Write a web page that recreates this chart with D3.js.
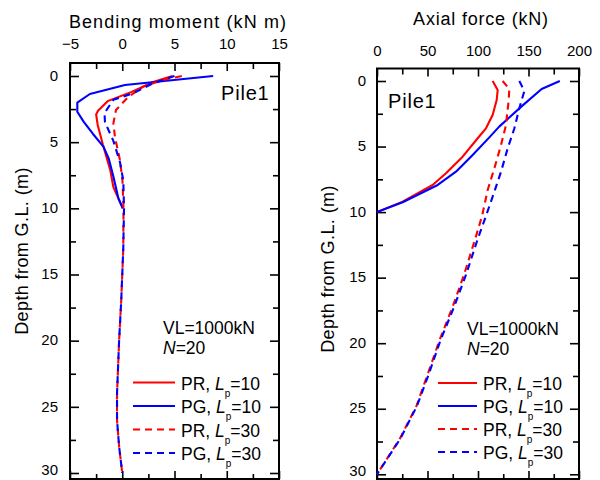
<!DOCTYPE html>
<html><head><meta charset="utf-8">
<script src="https://cdn.jsdelivr.net/npm/d3@7"></script>
<style>
body{margin:0;background:#fff}
svg{display:block}
text{font-family:"Liberation Sans",Arial,sans-serif;fill:#000}
</style>
</head><body>
<svg id="chart" width="600" height="480"></svg>
<script>
// ---------------- DATA ----------------
const seriesNames = ["PR", "PG", "PR", "PG"];
const seriesLp = ["10", "10", "30", "30"];

// Bending moment (kN m) vs depth (m)
const bmDepthPR10 = [0, 0.5, 1.2, 1.9, 2.6, 2.9, 3.7, 5.2, 7.1, 8.4, 10];
const bmPR10      = [4.8, 2.8, 0.9, -1.4, -2.3, -2.5, -2.35, -1.85, -1.15, -0.85, 0.05];
const bmDepthPG10 = [0, 0.68, 1.36, 2.02, 2.7, 3.45, 4.38, 5.34, 6.22, 7.6, 9.24, 10];
const bmPG10      = [8.7, 0.26, -3.1, -4.3, -4.3, -3.7, -2.8, -1.8, -1.3, -0.85, -0.37, 0.05];
const bmDepthPR30 = [0, 0.3, 0.81, 1.56, 2.57, 3.58, 4.6, 6.35, 7.9, 10, 13, 17, 20, 24, 26, 28, 30];
const bmPR30      = [5.7, 3.9, 2.0, 0.6, -0.6, -0.85, -0.7, -0.22, 0.02, 0.12, 0.1, -0.1, -0.3, -0.5, -0.5, -0.3, 0.0];
const bmDepthPG30 = [0, 0.6, 1.3, 1.8, 2.8, 3.5, 4.9, 6.5, 7.9, 10, 13, 17, 20, 24, 26, 28, 30];
const bmPG30      = [5.0, 2.8, 1.06, -0.85, -1.7, -1.65, -0.85, -0.22, 0.1, 0.17, 0.1, -0.1, -0.3, -0.5, -0.5, -0.3, 0.0];

// Axial force (kN) vs depth (m)
const afDepthPR10 = [0, 0.69, 1.45, 2.59, 3.61, 4.37, 5.77, 7.04, 7.93, 9.2, 10];
const afPR10      = [114.5, 119.5, 118.5, 114.5, 107.9, 99.7, 84.8, 68.3, 55.1, 25.4, 0];
const afDepthPG10 = [0, 0.61, 1.88, 3.48, 4.32, 5.64, 6.92, 7.93, 9.25, 10];
const afPG10      = [181, 163, 144, 121, 111, 94.7, 78.2, 60.1, 25.4, 0];
const afDepthPR30 = [0, 0.61, 1.45, 3.35, 4.88, 6.66, 8.31, 10.3, 12.1, 14.7, 17.2, 19.75, 22.3, 24.8, 27.3, 30];
const afPR30      = [124.4, 131, 130.4, 127.7, 122.8, 116.2, 109.6, 104, 97, 86.5, 75, 62, 50.5, 39, 22.5, 0];
const afDepthPG30 = [0, 0.76, 2.08, 3.61, 5.14, 6.92, 8.44, 10.3, 12.1, 14.7, 17.2, 19.75, 22.3, 24.8, 27.3, 30];
const afPG30      = [140.9, 145.9, 140.9, 136, 129.4, 122.8, 116.2, 107.9, 99.5, 88.5, 76.5, 63, 51.5, 39.5, 23, 0];

const bmTicks = [-5, 0, 5, 10, 15];
const afTicks = [0, 50, 100, 150, 200];
const depthTicks = [0, 5, 10, 15, 20, 25, 30];

// ---------------- STYLE / LAYOUT ----------------
const colors = ["#ff0000", "#0000ff", "#ff0000", "#0000ff"];
const dashes = [null, null, "7,5", "7,5"];

const svg = d3.select("#chart");

function panel(cfg) {
  const x = d3.scaleLinear().domain(cfg.xDomain).range([cfg.left, cfg.right]);
  const y = d3.scaleLinear().domain([0, 30]).range([cfg.y0, cfg.y30]);
  const g = svg.append("g");
  const H = cfg.bottom - cfg.top, W = cfg.right - cfg.left;

  const xMinor = d3.range(cfg.xDomain[0], cfg.xDomain[1] + 1e-9, cfg.xMinorStep).filter(v => !cfg.xTicks.some(t => Math.abs(t - v) < 1e-9));
  const yMinor = d3.range(2.5, 30, 5);

  // top axis with labels
  const top = g.append("g").attr("transform", `translate(0,${cfg.top})`)
    .call(d3.axisTop(x).tickValues(cfg.xTicks).tickSize(-8).tickPadding(cfg.xLabelPad).tickFormat(d3.format("")));
  top.append("g").call(d3.axisTop(x).tickValues(xMinor).tickSize(-6).tickFormat(""));
  // bottom axis
  const bot = g.append("g").attr("transform", `translate(0,${cfg.bottom})`)
    .call(d3.axisBottom(x).tickValues(cfg.xTicks).tickSize(-8).tickFormat(""));
  bot.append("g").call(d3.axisBottom(x).tickValues(xMinor).tickSize(-5).tickFormat(""));
  // left axis with labels
  const lft = g.append("g").attr("transform", `translate(${cfg.left},0)`)
    .call(d3.axisLeft(y).tickValues(depthTicks).tickSize(-9).tickPadding(cfg.yLabelPad).tickFormat(d3.format("")));
  lft.append("g").call(d3.axisLeft(y).tickValues(yMinor).tickSize(-6).tickFormat(""));
  // right axis
  const rgt = g.append("g").attr("transform", `translate(${cfg.right},0)`)
    .call(d3.axisRight(y).tickValues(depthTicks).tickSize(-9).tickFormat(""));
  rgt.append("g").call(d3.axisRight(y).tickValues(yMinor).tickSize(-6).tickFormat(""));

  g.selectAll(".domain").remove();
  g.selectAll(".tick line").attr("stroke", "#000").attr("stroke-width", 1.6);
  g.selectAll(".tick text").attr("font-size", 15).attr("fill", "#000")
    .style("font-family", '"Liberation Sans",Arial,sans-serif');
  lft.selectAll(".tick text").attr("dy", d => d === 30 ? "0.1em" : "0.28em");

  g.append("rect").attr("x", cfg.left).attr("y", cfg.top).attr("width", W).attr("height", H)
    .attr("fill", "none").attr("stroke", "#000").attr("stroke-width", 2);

  // curves
  const line = d3.line().x(d => x(d[1])).y(d => y(d[0]));
  cfg.series.forEach((s, i) => {
    const pts = s.depth.map((dd, k) => [dd, s.value[k]]);
    g.append("path").datum(pts).attr("d", line)
      .attr("fill", "none").attr("stroke", colors[i]).attr("stroke-width", 2.1)
      .attr("stroke-dasharray", dashes[i]).attr("stroke-linejoin", "round");
  });

  // titles
  g.append("text").attr("x", cfg.titleX).attr("y", cfg.titleY).attr("text-anchor", "middle")
    .attr("font-size", 18).attr("letter-spacing", cfg.titleLS).text(cfg.title);
  g.append("text").attr("transform", `translate(${cfg.yTitleX},${cfg.yTitleY}) rotate(-90)`)
    .attr("text-anchor", "middle").attr("font-size", 18).attr("letter-spacing", 0.4)
    .text("Depth from G.L. (m)");

  g.append("text").attr("x", cfg.pileX).attr("y", cfg.pileY).attr("font-size", 20)
    .attr("letter-spacing", 0.8).text("Pile1");

  const a1 = g.append("text").attr("x", cfg.noteX).attr("y", cfg.noteY).attr("font-size", 17.5).text("VL=1000kN");
  const a2 = g.append("text").attr("x", cfg.noteX).attr("y", cfg.noteY + 20).attr("font-size", 17.5);
  a2.append("tspan").attr("font-style", "italic").text("N");
  a2.append("tspan").text("=20");

  // legend
  seriesNames.forEach((nm, i) => {
    const ly = cfg.legY + i * cfg.legStep;
    g.append("line").attr("x1", cfg.legX1).attr("x2", cfg.legX2).attr("y1", ly).attr("y2", ly)
      .attr("stroke", colors[i]).attr("stroke-width", 2).attr("stroke-dasharray", dashes[i]);
    const t = g.append("text").attr("x", cfg.legX2 + 6).attr("y", ly + 7).attr("font-size", 17.5);
    t.append("tspan").text(nm + ", ");
    t.append("tspan").attr("font-style", "italic").text("L");
    t.append("tspan").attr("font-size", 10).attr("dy", 7).text("p");
    t.append("tspan").attr("dy", -7).text("=" + seriesLp[i]);
  });
}

panel({
  left: 70, right: 279, top: 63, bottom: 479, y0: 76, y30: 473,
  xDomain: [-5, 15], xTicks: bmTicks, xMinorStep: 2.5, xLabelPad: 14, yLabelPad: 12,
  title: "Bending moment (kN m)", titleX: 178, titleY: 28, titleLS: 1.1,
  yTitleX: 28, yTitleY: 251,
  pileX: 221, pileY: 100,
  noteX: 163, noteY: 334,
  legX1: 133, legX2: 175, legY: 382.5, legStep: 23.5,
  series: [
    {depth: bmDepthPR10, value: bmPR10},
    {depth: bmDepthPG10, value: bmPG10},
    {depth: bmDepthPR30, value: bmPR30},
    {depth: bmDepthPG30, value: bmPG30}
  ]
});

panel({
  left: 377, right: 579, top: 68.5, bottom: 479, y0: 81, y30: 474.3,
  xDomain: [0, 200], xTicks: afTicks, xMinorStep: 25, xLabelPad: 13, yLabelPad: 11,
  title: "Axial force (kN)", titleX: 481, titleY: 25, titleLS: 0.8,
  yTitleX: 334, yTitleY: 269,
  pileX: 388, pileY: 108,
  noteX: 467, noteY: 335,
  legX1: 438, legX2: 477, legY: 383, legStep: 23,
  series: [
    {depth: afDepthPR10, value: afPR10},
    {depth: afDepthPG10, value: afPG10},
    {depth: afDepthPR30, value: afPR30},
    {depth: afDepthPG30, value: afPG30}
  ]
});
</script>
</body></html>
